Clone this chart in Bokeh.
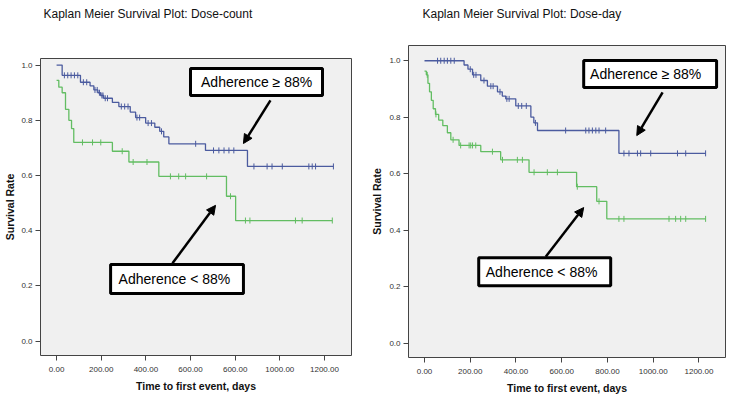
import numpy as np
from bokeh.plotting import figure
from bokeh.layouts import row, column
from bokeh.models import (FixedTicker, NumeralTickFormatter, Label, BoxAnnotation,
                          Arrow, NormalHead, Range1d, Title)
from bokeh.embed import file_html
from bokeh.resources import INLINE

# ---------------- data ----------------
titles = ["Kaplan Meier Survival Plot: Dose-count", "Kaplan Meier Survival Plot: Dose-day"]
x_ticks = [0, 200, 400, 600, 800, 1000, 1200]
x_tick_labels_left = ["0.00", "200.00", "400.00", "600.00", "600.00", "1000.00", "1200.00"]
x_tick_labels_right = ["0.00", "200.00", "400.00", "600.00", "800.00", "1000.00", "1200.00"]
y_ticks = [0.0, 0.2, 0.4, 0.6, 0.8, 1.0]
group_labels = ["Adherence \u2265 88%", "Adherence < 88%"]

# Dose-count, adherence >= 88%
dc_hi_t = [0, 25, 107, 150, 167, 185, 197, 211, 250, 279, 330, 354, 399, 440, 462, 480, 503, 667, 855]
dc_hi_s = [1.0, 0.963, 0.938, 0.925, 0.91, 0.90, 0.89, 0.88, 0.865, 0.85, 0.83, 0.81, 0.79, 0.775, 0.76, 0.74, 0.715, 0.691, 0.633]
dc_hi_end = 1240
dc_hi_cens = [35, 50, 65, 80, 95, 120, 135, 172, 182, 192, 203, 208, 218, 228, 290, 305, 320, 360, 372,
              410, 425, 470, 623, 703, 727, 750, 772, 794, 884, 943, 965, 1011, 1130, 1145, 1160, 1240]

# Dose-count, adherence < 88%
dc_lo_t = [0, 10, 25, 40, 55, 67, 77, 250, 324, 458, 761, 802]
dc_lo_s = [0.945, 0.92, 0.90, 0.84, 0.80, 0.77, 0.72, 0.688, 0.649, 0.597, 0.525, 0.437]
dc_lo_end = 1235
dc_lo_cens = [116, 161, 198, 294, 343, 405, 510, 547, 578, 672, 779, 846, 866, 1070, 1100, 1235]

# Dose-day, adherence >= 88%
dd_hi_t = [0, 173, 190, 210, 246, 275, 319, 340, 355, 399, 465, 478, 494, 850]
dd_hi_s = [1.0, 0.985, 0.97, 0.95, 0.93, 0.91, 0.89, 0.875, 0.865, 0.84, 0.80, 0.78, 0.753, 0.672]
dd_hi_end = 1229
dd_hi_cens = [57, 71, 86, 100, 115, 130, 200, 215, 225, 260, 290, 300, 330, 360, 370, 410, 425, 445, 485,
              617, 705, 719, 734, 749, 763, 792, 872, 894, 931, 945, 989, 1106, 1142, 1229]

# Dose-day, adherence < 88%
dd_lo_t = [0, 8, 15, 22, 30, 38, 48, 62, 80, 100, 115, 151, 246, 333, 457, 665, 753, 797]
dd_lo_s = [0.963, 0.95, 0.92, 0.89, 0.86, 0.83, 0.81, 0.79, 0.77, 0.745, 0.72, 0.70, 0.678, 0.649, 0.605, 0.554, 0.502, 0.44]
dd_lo_end = 1229
dd_lo_cens = [12, 50, 125, 158, 195, 202, 210, 224, 297, 341, 406, 428, 479, 537, 581, 668, 763, 850, 872,
              1069, 1098, 1120, 1142, 1229]

BLUE = "#4b5b9f"
GREEN = "#62bd62"
FONT = "Liberation Sans"


def add_km(p, t, s, end, cens, color):
    xs = list(t) + [end]
    ys = list(s) + [s[-1]]
    p.step(xs, ys, mode="after", line_color=color, line_width=1.3)
    idx = np.searchsorted(np.array(t), np.array(cens), side="right") - 1
    cy = np.array(s)[idx]
    p.scatter(cens, cy, marker="dash", angle=np.pi / 2, size=6, line_color=color, line_width=1)


def make_fig(title, width, xr, yr, borders, xlabels, title_offset, ylabel_standoff, spacer_standoff):
    bl, br, bt, bb = borders
    p = figure(width=width, height=396, output_backend="svg", toolbar_location=None, title=None,
               x_range=Range1d(*xr), y_range=Range1d(*yr),
               min_border_left=bl, min_border_right=br, min_border_top=bt, min_border_bottom=bb)
    # spacer (inner) then real title (outer)
    p.add_layout(Title(text=" ", text_font=FONT, text_font_size="12px", standoff=spacer_standoff), "above")
    p.add_layout(Title(text=title, text_font=FONT, text_font_size="12px", text_font_style="normal",
                       text_color="#111111", standoff=8, offset=title_offset, align="left"), "above")
    p.background_fill_color = "#f0f0f0"
    p.border_fill_color = "white"
    p.outline_line_color = "#444444"
    p.outline_line_width = 1
    p.grid.visible = False
    for ax in (p.xaxis[0], p.yaxis[0]):
        ax.axis_line_color = None
        ax.major_tick_out = 5
        ax.major_tick_in = 0
        ax.major_tick_line_color = "#444444"
        ax.minor_tick_line_color = None
        ax.major_label_text_font = FONT
        ax.major_label_text_font_size = "8px"
        ax.major_label_text_color = "#333333"
        ax.axis_label_text_font = FONT
        ax.axis_label_text_font_size = "10.5px"
        ax.axis_label_text_font_style = "bold"
        ax.axis_label_text_color = "#111111"
    p.xaxis.major_label_standoff = 6
    p.xaxis.axis_label_standoff = 5
    p.yaxis.major_label_standoff = 3
    p.yaxis.axis_label_standoff = ylabel_standoff
    p.xaxis.ticker = FixedTicker(ticks=x_ticks)
    p.xaxis.major_label_overrides = {k: v for k, v in zip(x_ticks, xlabels)}
    p.xaxis.axis_label = "Time to first event, days"
    p.yaxis.ticker = FixedTicker(ticks=y_ticks)
    p.yaxis.formatter = NumeralTickFormatter(format="0.0")
    p.yaxis.axis_label = "Survival Rate"
    return p


def callout(p, box, text_xy, text, arrow):
    l, r, b, t = box
    p.add_layout(BoxAnnotation(left=l, right=r, bottom=b, top=t, fill_color="white", fill_alpha=1,
                               line_color="black", line_alpha=1, line_width=3, level="annotation"))
    p.add_layout(Label(x=text_xy[0], y=text_xy[1], text=text, text_align="center",
                       text_baseline="middle", text_font=FONT, text_font_size="14px",
                       text_color="black"))
    x0, y0, x1, y1 = arrow
    p.add_layout(Arrow(x_start=x0, y_start=y0, x_end=x1, y_end=y1, line_width=2.5, line_color="black",
                       end=NormalHead(size=9, fill_color="black", line_color="black")))


p1 = make_fig(titles[0], 357, (-72, 1321), (-0.052, 1.024), (40, 6, 58, 41), x_tick_labels_left, 3, 2, 18)
add_km(p1, dc_hi_t, dc_hi_s, dc_hi_end, dc_hi_cens, BLUE)
add_km(p1, dc_lo_t, dc_lo_s, dc_lo_end, dc_lo_cens, GREEN)
callout(p1, (600, 1191, 0.890, 0.988), (896, 0.939), group_labels[0], (958, 0.872, 837, 0.716))
callout(p1, (242, 837, 0.173, 0.278), (528, 0.225), group_labels[1], (519, 0.282, 712, 0.492))

p2 = make_fig(titles[1], 371, (-70, 1316), (-0.051, 1.054), (51, 3, 45, 39), x_tick_labels_right, 14, 3, 5)
add_km(p2, dd_hi_t, dd_hi_s, dd_hi_end, dd_hi_cens, BLUE)
add_km(p2, dd_lo_t, dd_lo_s, dd_lo_end, dd_lo_cens, GREEN)
callout(p2, (696, 1277, 0.905, 1.001), (967, 0.953), group_labels[0], (1041, 0.888, 928, 0.735))
callout(p2, (237, 814, 0.203, 0.302), (512, 0.253), group_labels[1], (530, 0.306, 696, 0.480))

layout = row(column(p1), column(p2))
open("out.html", "w").write(file_html(layout, INLINE))
